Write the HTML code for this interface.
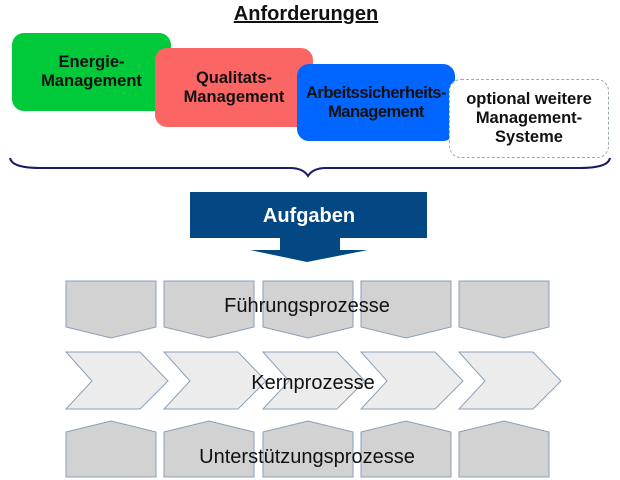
<!DOCTYPE html>
<html><head><style>
body{margin:0;width:620px;height:480px;background:#fff;overflow:hidden;font-family:"Liberation Sans",sans-serif;}
.b{position:absolute;border-radius:12px;display:flex;align-items:center;justify-content:center;text-align:center;font-weight:bold;font-size:16.5px;line-height:19px;color:#111;}
</style></head><body>
<div style="position:absolute;left:0;width:612px;top:3px;text-align:center;font-weight:bold;font-size:20px;text-decoration:underline;color:#111">Anforderungen</div>
<div class="b" style="left:12px;top:33px;width:159px;height:78px;background:#00c93a">Energie-<br>Management</div>
<div class="b" style="left:155px;top:48px;width:158px;height:79px;background:#fb6665">Qualitats-<br>Management</div>
<div class="b" style="left:297px;top:64px;width:158px;height:77px;background:#0066ff;letter-spacing:-0.5px">Arbeitssicherheits-<br>Management</div>
<div class="b" style="left:449px;top:79px;width:158px;height:77px;background:#fff;border:1px dashed #9aa">optional weitere<br>Management-<br>Systeme</div>
<svg width="620" height="480" style="position:absolute;left:0;top:0">
<path d="M10,158 Q12,168 40,168 L290,168 Q303,168 308,176 Q313,168 326,168 L580,168 Q608,168 610,158" fill="none" stroke="#1a1a6a" stroke-width="2"/>
<rect x="190" y="192" width="237" height="46" fill="#034883"/>
<polygon points="280,238 340,238 340,250 368,250 307,262 250,250 280,250" fill="#034883"/>
<text x="309" y="222" text-anchor="middle" font-family="Liberation Sans" font-weight="bold" font-size="20" fill="#fff">Aufgaben</text>
<g fill="#d2d2d2" stroke="#8aa0b8" stroke-width="1">
<polygon points="66,281 156,281 156,327 111,338 66,327"/>
<polygon points="164,281 254,281 254,327 209,338 164,327"/>
<polygon points="263,281 353,281 353,327 308,338 263,327"/>
<polygon points="361,281 451,281 451,327 406,338 361,327"/>
<polygon points="459,281 549,281 549,327 504,338 459,327"/>
</g>
<g fill="#ececec" stroke="#8aa0b8" stroke-width="1">
<polygon points="66,352 140,352 168,381 140,409 66,409 92,381"/>
<polygon points="164,352 238,352 266,381 238,409 164,409 190,381"/>
<polygon points="263,352 337,352 365,381 337,409 263,409 289,381"/>
<polygon points="361,352 435,352 463,381 435,409 361,409 387,381"/>
<polygon points="459,352 533,352 561,381 533,409 459,409 485,381"/>
</g>
<g fill="#d2d2d2" stroke="#8aa0b8" stroke-width="1">
<polygon points="66,432 111,421 156,432 156,477 66,477"/>
<polygon points="164,432 209,421 254,432 254,477 164,477"/>
<polygon points="263,432 308,421 353,432 353,477 263,477"/>
<polygon points="361,432 406,421 451,432 451,477 361,477"/>
<polygon points="459,432 504,421 549,432 549,477 459,477"/>
</g>
<g font-family="Liberation Sans" font-size="20" fill="#111" text-anchor="middle">
<text x="307" y="312">Führungsprozesse</text>
<text x="313" y="389">Kernprozesse</text>
<text x="307" y="463">Unterstützungsprozesse</text>
</g>
</svg>
</body></html>
